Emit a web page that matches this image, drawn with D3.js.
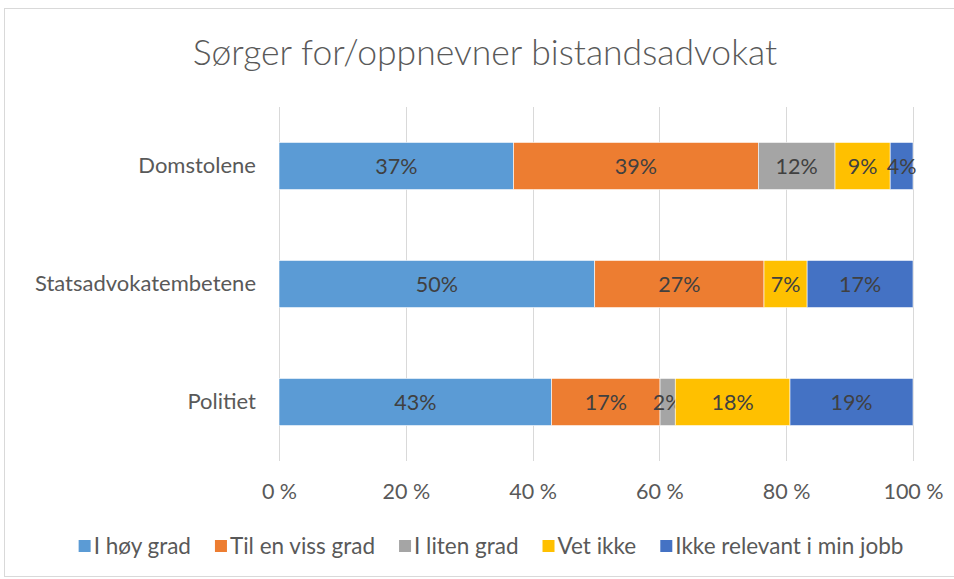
<!DOCTYPE html>
<html>
<head>
<meta charset="utf-8">
<script src="https://cdn.jsdelivr.net/npm/d3@7"></script>
<style>
  body { margin: 0; background: #fff; }
  svg text { font-family: Lato, "Open Sans", sans-serif; }
</style>
</head>
<body>
<div id="chart"></div>
<script>
// chart data
let categories = ["Domstolene", "Statsadvokatembetene", "Politiet"];
let seriesNames = ["I høy grad", "Til en viss grad", "I liten grad", "Vet ikke", "Ikke relevant i min jobb"];
let hoyGrad = [37.0, 49.8, 43.0];
let vissGrad = [38.6, 26.7, 17.1];
let litenGrad = [12.1, 0, 2.4];
let vetIkke = [8.7, 6.8, 18.1];
let ikkeRelevant = [3.6, 16.7, 19.4];
let xTicks = [0, 20, 40, 60, 80, 100];
let colors = ["#5B9BD5", "#ED7D31", "#A5A5A5", "#FFC000", "#4472C4"];

let width = 954,
    height = 579;

let margin = {top: 107, right: 41, bottom: 118, left: 279};
let fontSize = 21.5;

let svg = d3.select("#chart")
    .append("svg")
    .attr("width", width)
    .attr("height", height);

// chart border
svg.append("rect")
    .attr("x", 4.5)
    .attr("y", 8.5)
    .attr("width", 980)
    .attr("height", 568)
    .attr("fill", "none")
    .attr("stroke", "#d9d9d9");

svg.append("text")
    .attr("x", 485)
    .attr("y", 65)
    .attr("text-anchor", "middle")
    .attr("font-size", 35.5)
    .attr("font-weight", 300)
    .attr("fill", "#595959")
    .text("Sørger for/oppnevner bistandsadvokat");

let rows = categories.map((c, i) => ({
    cat: c,
    "I høy grad": hoyGrad[i],
    "Til en viss grad": vissGrad[i],
    "I liten grad": litenGrad[i],
    "Vet ikke": vetIkke[i],
    "Ikke relevant i min jobb": ikkeRelevant[i]
}));

let stacked = d3.stack().keys(seriesNames)(rows);

let xScale = d3.scaleLinear()
    .domain([0, 100])
    .range([margin.left, width - margin.right]);

let yScale = d3.scaleBand()
    .domain(categories)
    .range([margin.top, height - margin.bottom])
    .paddingInner(0.6)
    .paddingOuter(0.3);

// gridlines
svg.append("g")
    .selectAll("line")
    .data(xTicks)
    .enter().append("line")
    .attr("x1", d => Math.round(xScale(d)) + 0.5)
    .attr("x2", d => Math.round(xScale(d)) + 0.5)
    .attr("y1", margin.top)
    .attr("y2", height - margin.bottom)
    .attr("stroke", "#d9d9d9")
    .attr("stroke-width", 1);

let layers = svg.append("g")
    .selectAll("g")
    .data(stacked)
    .enter().append("g")
    .attr("fill", (d, i) => colors[i]);

layers.selectAll("rect")
    .data(d => d.filter(s => s[1] - s[0] > 0))
    .enter().append("rect")
    .attr("x", d => xScale(d[0]))
    .attr("y", d => yScale(d.data.cat))
    .attr("width", d => xScale(d[1]) - xScale(d[0]))
    .attr("height", yScale.bandwidth())
    .attr("stroke", "#fff")
    .attr("stroke-width", 0.6);

layers.selectAll("text")
    .data(d => d.filter(s => s[1] - s[0] > 0))
    .enter().append("text")
    .attr("x", d => (xScale(d[0]) + xScale(d[1])) / 2)
    .attr("y", d => yScale(d.data.cat) + yScale.bandwidth() / 2)
    .attr("dy", "0.35em")
    .attr("text-anchor", "middle")
    .attr("font-size", fontSize)
    .attr("fill", "#404040")
    .text(d => d3.format(".0f")(d[1] - d[0]) + "%");

// category axis
let yAxis = svg.append("g")
    .attr("transform", "translate(" + margin.left + ",0)")
    .call(d3.axisLeft(yScale).tickSize(0).tickPadding(23));
yAxis.select(".domain").remove();
yAxis.selectAll("text")
    .attr("font-size", 22)
    .attr("fill", "#595959")
    .style("font-family", "Lato, 'Open Sans', sans-serif");

// value axis
let xAxis = svg.append("g")
    .attr("transform", "translate(0," + (height - margin.bottom) + ")")
    .call(d3.axisBottom(xScale).tickValues(xTicks).tickSize(0).tickPadding(23)
        .tickFormat(d => d + " %"));
xAxis.select(".domain").remove();
xAxis.selectAll("text")
    .attr("font-size", fontSize)
    .attr("fill", "#595959")
    .style("font-family", "Lato, 'Open Sans', sans-serif");

// legend
let legend = svg.append("g")
    .attr("transform", "translate(0,546)");

let items = legend.selectAll("g")
    .data(seriesNames)
    .enter().append("g");

items.append("rect")
    .attr("x", 0)
    .attr("y", -6)
    .attr("width", 12)
    .attr("height", 12)
    .attr("fill", (d, i) => colors[i]);

items.append("text")
    .attr("x", 15)
    .attr("dy", "0.35em")
    .attr("font-size", 22.5)
    .attr("fill", "#595959")
    .text(d => d);

let gap = 24;
let offsets = [];
let pos = 0;
items.each(function () {
    offsets.push(pos);
    pos += this.getBBox().width + gap;
});
let totalWidth = pos - gap;
let startX = 491 - totalWidth / 2;
items.attr("transform", (d, i) => "translate(" + (startX + offsets[i]) + ",0)");
</script>
</body>
</html>
